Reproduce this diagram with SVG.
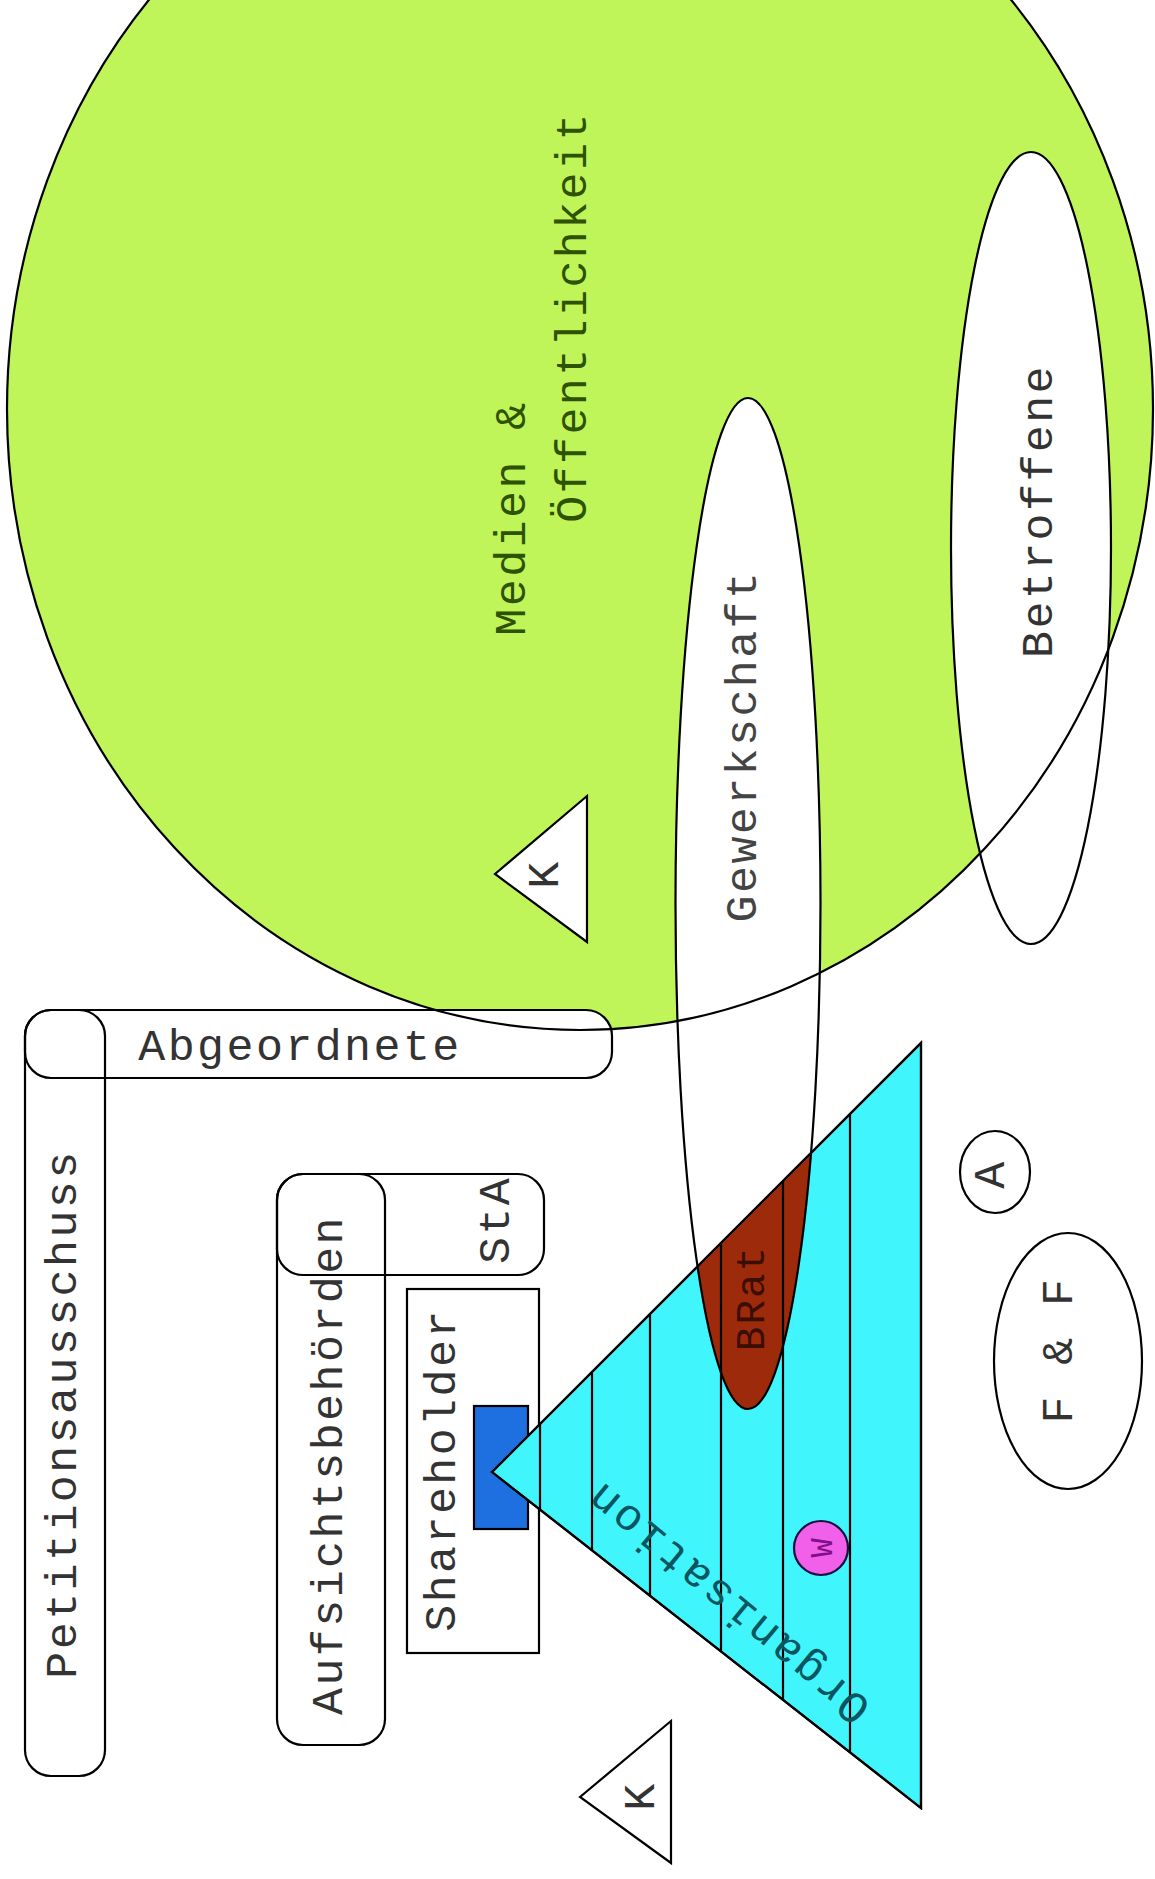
<svg xmlns="http://www.w3.org/2000/svg" width="1155" height="1879" viewBox="0 0 1155 1879">
<style>
.ln{stroke:#000;stroke-width:2.2;}
.t{font-family:"Liberation Mono","DejaVu Sans Mono",monospace;font-size:45px;letter-spacing:2.4px;fill:#333;text-anchor:middle;}
</style>
<defs>
<clipPath id="triClip"><polygon points="492,1472 921,1043 921,1808"/></clipPath>
</defs>
<rect width="1155" height="1879" fill="#fff"/>
<g id="medien-fill">
<ellipse cx="580" cy="409" rx="573" ry="621" fill="#C0F55A"/>
</g>
<g id="abgeordnete">
<rect class="ln" x="25" y="1010" width="587" height="68" rx="26" ry="26" fill="#fff"/>
<text class="t" x="300" y="1045" dy="0.34em">Abgeordnete</text>
</g>
<g id="petitionsausschuss">
<rect class="ln" x="25" y="1010" width="80" height="766" rx="26" ry="26" fill="none"/>
<text class="t" transform="translate(61,1414) rotate(-90)" dy="0.34em">Petitionsausschuss</text>
</g>
<g id="gewerkschaft">
<ellipse class="ln" cx="748" cy="903.5" rx="72.5" ry="505.5" fill="#fff"/>
<text class="t" transform="translate(741,746) rotate(-90)" dy="0.34em" style="fill:#444">Gewerkschaft</text>
</g>
<g id="betroffene">
<ellipse class="ln" cx="1031" cy="548" rx="80" ry="396" fill="#fff"/>
<text class="t" transform="translate(1037,511) rotate(-90)" dy="0.34em">Betroffene</text>
</g>
<g id="medien">
<ellipse class="ln" cx="580" cy="409" rx="573" ry="621" fill="none"/>
<text class="t" transform="translate(510,518) rotate(-90)" dy="0.34em" style="fill:#2E5200">Medien &amp;</text>
<text class="t" transform="translate(571,317) rotate(-90)" dy="0.34em" style="fill:#2E5200">Öffentlichkeit</text>
</g>
<g id="k-oben">
<polygon class="ln" points="495,874 587,796 587,942" fill="#fff"/>
<text class="t" transform="translate(543,874) rotate(-90)" dy="0.34em">K</text>
</g>
<g id="aufsichtsbehoerden">
<rect class="ln" x="277" y="1174" width="108" height="571" rx="26" ry="26" fill="none"/>
<text class="t" transform="translate(327,1465) rotate(-90)" dy="0.34em">Aufsichtsbehörden</text>
</g>
<g id="sta">
<rect class="ln" x="277" y="1174" width="267" height="101" rx="26" ry="26" fill="none"/>
<text class="t" transform="translate(494,1220) rotate(-90)" dy="0.34em">StA</text>
</g>
<g id="shareholder">
<rect class="ln" x="407" y="1289" width="132" height="364" fill="#fff"/>
<text class="t" transform="translate(440,1470) rotate(-90)" dy="0.34em">Shareholder</text>
<rect class="ln" x="474" y="1406" width="54" height="123" fill="#1E70E0"/>
</g>
<g id="organisation">
<polygon class="ln" points="492,1472 921,1043 921,1808" fill="#40F6FC"/>
<g clip-path="url(#triClip)">
<ellipse class="ln" cx="748" cy="903.5" rx="72.5" ry="505.5" fill="#9E2A0C"/>
</g>
<g class="ln">
<line x1="540" y1="1424" x2="540" y2="1509"/>
<line x1="592" y1="1373" x2="592" y2="1550"/>
<line x1="650" y1="1315" x2="650" y2="1595"/>
<line x1="721" y1="1243" x2="721" y2="1651"/>
<line x1="783" y1="1181" x2="783" y2="1700"/>
<line x1="850" y1="1114" x2="850" y2="1752"/>
</g>
<polygon class="ln" points="492,1472 921,1043 921,1808" fill="none"/>
<text class="t" transform="translate(727,1604) rotate(219.6)" dy="0.34em" style="fill:#0B5560">Organisation</text>
</g>
<g id="brat">
<text class="t" transform="translate(750,1298) rotate(-90)" dy="0.34em" style="font-size:41px;letter-spacing:2px;fill:#3A0E00">BRat</text>
</g>
<g id="w">
<circle cx="821" cy="1548" r="27" fill="#F060E8" stroke="#1A1040" stroke-width="2.2"/>
<text class="t" transform="translate(821,1548) rotate(-90)" dy="0.34em" style="font-size:32px;letter-spacing:0;fill:#80108A">W</text>
</g>
<g id="a">
<ellipse class="ln" cx="995" cy="1172" rx="35" ry="41" fill="#fff"/>
<text class="t" transform="translate(989,1174) rotate(-90)" dy="0.34em">A</text>
</g>
<g id="f-und-f">
<ellipse class="ln" cx="1068" cy="1361" rx="74" ry="128" fill="#fff"/>
<text class="t" transform="translate(1057,1350) rotate(-90)" dy="0.34em">F &amp; F</text>
</g>
<g id="k-unten">
<polygon class="ln" points="580,1797 671,1721 671,1863" fill="#fff"/>
<text class="t" transform="translate(639,1796) rotate(-90)" dy="0.34em">K</text>
</g>
</svg>
